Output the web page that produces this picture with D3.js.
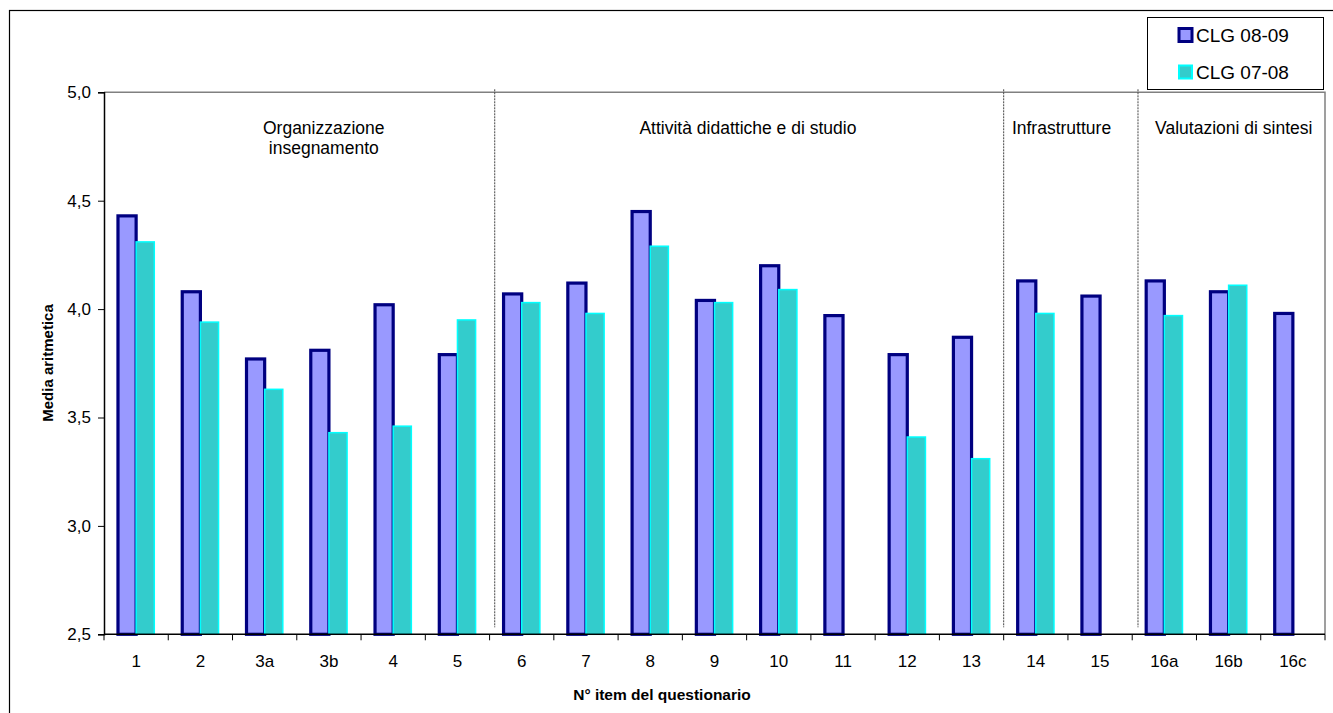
<!DOCTYPE html>
<html><head><meta charset="utf-8">
<script src="https://cdn.jsdelivr.net/npm/d3@7"></script>
<style>
body{margin:0;background:#fff;}
text{font-family:"Liberation Sans",Arial,sans-serif;fill:#000;}
</style></head>
<body><svg id="c" width="1333" height="713"></svg>
<script>
const categories = ["1","2","3a","3b","4","5","6","7","8","9","10","11","12","13","14","15","16a","16b","16c"];
const seriesNames = ["CLG 08-09","CLG 07-08"];
const clg0809 = [4.43,4.08,3.77,3.81,4.02,3.79,4.07,4.12,4.45,4.04,4.20,3.97,3.79,3.87,4.13,4.06,4.13,4.08,3.98];
const clg0708 = [4.31,3.94,3.63,3.43,3.46,3.95,4.03,3.98,4.29,4.03,4.09,null,3.41,3.31,3.98,null,3.97,4.11,null];
const yTicks = [2.5,3.0,3.5,4.0,4.5,5.0];
const sectionLabels = [["Organizzazione","insegnamento"],["Attività didattiche e di studio"],["Infrastrutture"],["Valutazioni di sintesi"]];
const sectionLabelPos = [3.42, 10.02, 14.9, 17.58];
const separatorPos = [6.08, 14.0, 16.09];

const svg = d3.select("#c");
const L=104, R=1325, T=92.3, B=634.3;

svg.append("rect").attr("x",9.5).attr("y",10.5).attr("width",1330).attr("height",710)
  .attr("fill","#fff").attr("stroke","#000").attr("stroke-width",1.2);

const x = d3.scaleBand().domain(categories).range([L,R]).padding(0);
const xi = d3.scaleBand().domain(seriesNames).range([0,x.bandwidth()]).paddingInner(0).paddingOuter(0.77);
const y = d3.scaleLinear().domain([2.5,5]).range([B,T]);
const xIdx = d3.scaleLinear().domain([0,categories.length]).range([L,R]);

// plot border top/right
svg.append("path").attr("d",`M${L},${T}H${R}V${B}`).attr("fill","none").attr("stroke","#808080").attr("stroke-width",1.5);

// separators
svg.selectAll("line.sep").data(separatorPos).join("line").attr("class","sep")
  .attr("x1",d=>xIdx(d)).attr("x2",d=>xIdx(d)).attr("y1",T-3).attr("y2",B-7)
  .attr("stroke","#444").attr("stroke-width",1).attr("stroke-dasharray","2,1");

// section labels
sectionLabels.forEach((lines,k)=>{
  const cx=xIdx(sectionLabelPos[k]);
  lines.forEach((t,i)=>{
    svg.append("text").attr("x",cx).attr("y",134+i*20).attr("text-anchor","middle")
      .attr("font-size",17.5).text(t);
  });
});

// bars
const data = categories.map((c,i)=>({c, vals:[{s:seriesNames[0],v:clg0809[i]},{s:seriesNames[1],v:clg0708[i]}]}));
const styles = {"CLG 08-09":{fill:"#9999FF",stroke:"#000080",sw:3.2},"CLG 07-08":{fill:"#33CCCC",stroke:"#00FFFF",sw:1.5}};
const g = svg.append("g");
data.forEach(d=>{
  d.vals.filter(e=>e.v!=null).forEach(e=>{
    const st=styles[e.s];
    g.append("rect").attr("x",x(d.c)+xi(e.s)).attr("width",xi.bandwidth())
      .attr("y",y(e.v)).attr("height",B-y(e.v))
      .attr("fill",st.fill).attr("stroke",st.stroke).attr("stroke-width",st.sw);
  });
});

// y axis
const yAxis = d3.axisLeft(y).tickValues(yTicks).tickSize(6).tickPadding(7)
  .tickFormat(d=>d3.format(".1f")(d).replace(".",","));
const ya = svg.append("g").attr("transform",`translate(${L},0)`).call(yAxis);
ya.select(".domain").attr("stroke","#000").attr("stroke-width",1.5);
ya.selectAll(".tick line").attr("stroke","#000");
ya.selectAll(".tick text").attr("font-size",17).attr("font-family","Liberation Sans, Arial, sans-serif");

// x axis
svg.append("line").attr("x1",L).attr("x2",R).attr("y1",B).attr("y2",B).attr("stroke","#000").attr("stroke-width",1.5);
svg.selectAll("line.xt").data(d3.range(categories.length+1)).join("line").attr("class","xt")
  .attr("x1",d=>xIdx(d)).attr("x2",d=>xIdx(d)).attr("y1",B).attr("y2",B+6).attr("stroke","#000");
svg.selectAll("text.xl").data(categories).join("text").attr("class","xl")
  .attr("x",d=>x(d)+x.bandwidth()/2).attr("y",667).attr("text-anchor","middle").attr("font-size",17).text(d=>d);

// titles
svg.append("text").attr("x",662).attr("y",700).attr("text-anchor","middle").attr("font-size",15.5).attr("font-weight","bold").text("N° item del questionario");
svg.append("text").attr("transform","translate(53,363) rotate(-90)").attr("text-anchor","middle").attr("font-size",15).attr("font-weight","bold").text("Media aritmetica");

// legend
svg.append("rect").attr("x",1147.5).attr("y",17.5).attr("width",176).attr("height",72).attr("fill","#fff").attr("stroke","#000").attr("stroke-width",1);
seriesNames.forEach((s,i)=>{
  const st=styles[s]; const cy=[35,72][i];
  svg.append("rect").attr("x",1179).attr("y",cy-6.5).attr("width",13).attr("height",13)
    .attr("fill",st.fill).attr("stroke",st.stroke).attr("stroke-width",i===0?3:2);
  svg.append("text").attr("x",1196).attr("y",cy+7).attr("font-size",19).text(s);
});
</script></body></html>
